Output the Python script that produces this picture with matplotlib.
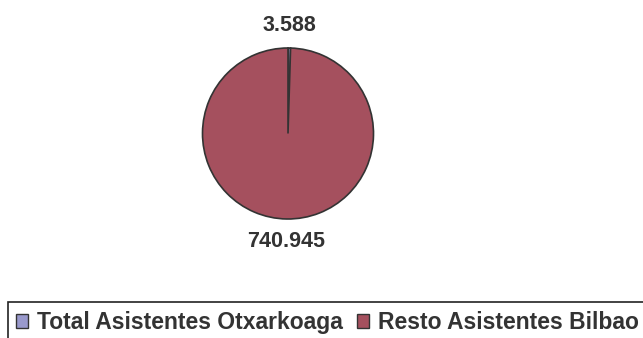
import matplotlib.pyplot as plt
from matplotlib.patches import Rectangle

# asistentes: Otxarkoaga frente al resto de Bilbao
categorias = ['Total Asistentes Otxarkoaga', 'Resto Asistentes Bilbao']
asistentes = [3588, 740945]
colores = ['#9999CC', '#A5505E']

plt.rcParams['font.family'] = ['Liberation Sans', 'DejaVu Sans']

fig = plt.figure(figsize=(6.43, 3.38), dpi=100)
W, H = 643, 338

# eje cuadrado para la tarta (radio ~86 px)
cx, cy, r = 288, 133.5, 85.5
ax = fig.add_axes([(cx - r) / W, (H - cy - r) / H, 2 * r / W, 2 * r / H])

etiquetas = ['{:,}'.format(v).replace(',', '.') for v in asistentes]

wedges, textos = ax.pie(asistentes, colors=colores, labels=etiquetas,
                        labeldistance=1.26, startangle=90, counterclock=False,
                        wedgeprops=dict(edgecolor='#333333', linewidth=1.2),
                        textprops=dict(fontsize=15.5, fontweight='bold', color='#333333'))
for t in textos:
    t.set_horizontalalignment('center')
    t.set_verticalalignment('center')
ax.set_xlim(-1.0, 1.0)
ax.set_ylim(-1.0, 1.0)
ax.set_aspect('equal')

leg = fig.legend(wedges, categorias, ncol=2, loc='upper left',
                 bbox_to_anchor=(7 / W, 1 - 302 / H), frameon=False,
                 prop=dict(weight='bold', size=16.5),
                 handlelength=0.52, handleheight=0.52, handletextpad=0.4,
                 columnspacing=0.6, borderpad=0.4, borderaxespad=0)
for t in leg.get_texts():
    t.set_color('#333333')
for h in leg.legend_handles:
    h.set_edgecolor('#333333')
    h.set_linewidth(1.0)

# marco de la leyenda, sale por la derecha y por abajo
fig.patches.append(Rectangle((7.5 / W, -0.1), 1.0, 1 - 302 / H + 0.1,
                             transform=fig.transFigure, fill=False,
                             edgecolor='#222222', linewidth=1.2))

fig.savefig('out.png', dpi=100)
